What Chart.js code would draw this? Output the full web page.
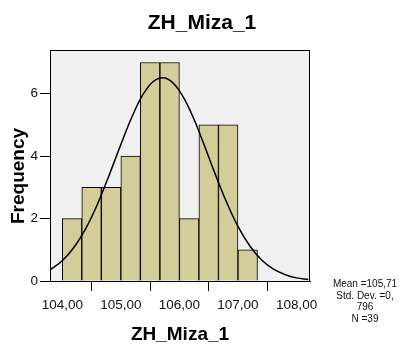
<!DOCTYPE html>
<html>
<head>
<meta charset="utf-8">
<script src="https://cdn.jsdelivr.net/npm/chart.js@4.4.1/dist/chart.umd.min.js"></script>
<style>
  body { margin: 0; background: #fff; }
  #wrap { width: 400px; height: 345px; }
</style>
</head>
<body>
<div id="wrap"><canvas id="histChart" width="400" height="345"></canvas></div>
<script>
// Histogram bins (lower edge, upper edge) and frequencies
const binStarts = [104.0, 104.333, 104.667, 105.0, 105.333, 105.667, 106.0, 106.333, 106.667, 107.0];
const binWidth = 0.3333;
const frequencies = [2, 3, 3, 4, 7, 7, 2, 5, 5, 1];

// Normal curve read along the x axis
const curveX = [103.8, 104.0, 104.2, 104.4, 104.6, 104.8, 105.0, 105.2, 105.4, 105.6, 105.8, 106.0,
                106.2, 106.4, 106.6, 106.8, 107.0, 107.2, 107.4, 107.6, 107.8, 108.0, 108.2];
const curveY = [0.37, 0.65, 1.08, 1.68, 2.46, 3.39, 4.37, 5.30, 6.04, 6.45, 6.47, 6.09,
                5.39, 4.47, 3.48, 2.55, 1.75, 1.13, 0.68, 0.39, 0.21, 0.10, 0.05];

const xTickValues = [104, 105, 106, 107, 108];
const xTickLabels = ['104,00', '105,00', '106,00', '107,00', '108,00'];
const yTickValues = [0, 2, 4, 6];

const chartTitle = 'ZH_Miza_1';
const xTitle = 'ZH_Miza_1';
const yTitle = 'Frequency';
const statsLines = ['Mean =105,71', 'Std. Dev. =0,', '796', 'N =39'];

const barPoints = binStarts.map((s, i) => ({ x: s + binWidth / 2, y: frequencies[i] }));
const curvePoints = curveX.map((x, i) => ({ x: x, y: curveY[i] }));

const FONT = 'Arial, "Liberation Sans", sans-serif';

// grey plot background, frame, titles and the stats block
const decorations = {
    id: 'decorations',
    beforeDatasetsDraw(chart) {
        const { ctx, chartArea: a } = chart;
        ctx.save();
        ctx.fillStyle = '#f0f0f0';
        ctx.fillRect(a.left, a.top, a.right - a.left, a.bottom - a.top);
        ctx.restore();
    },
    afterDraw(chart) {
        const { ctx, chartArea: a } = chart;
        ctx.save();
        ctx.strokeStyle = '#000';
        ctx.lineWidth = 1;
        ctx.strokeRect(a.left + 0.5, a.top + 0.5, a.right - a.left - 1, a.bottom - a.top);

        ctx.fillStyle = '#000';
        ctx.textAlign = 'center';
        ctx.textBaseline = 'middle';
        ctx.font = 'bold 21px ' + FONT;
        ctx.fillText(chartTitle, 202, 23);

        ctx.font = 'bold 19px ' + FONT;
        ctx.fillText(xTitle, (a.left + a.right) / 2, 335);

        ctx.save();
        ctx.translate(19, 176);
        ctx.rotate(-Math.PI / 2);
        ctx.fillText(yTitle, 0, 0);
        ctx.restore();

        ctx.font = '10px ' + FONT;
        ctx.fillStyle = '#111';
        statsLines.forEach((line, i) => {
            ctx.fillText(line, 365, 284 + i * 11.8);
        });
        ctx.restore();
    }
};

const ctx = document.getElementById('histChart').getContext('2d');
const chart = new Chart(ctx, {
    data: {
        datasets: [
            {
                type: 'line',
                data: curvePoints,
                borderColor: '#000',
                borderWidth: 1.5,
                pointRadius: 0,
                tension: 0.4,
                fill: false,
                order: 0
            },
            {
                type: 'bar',
                data: barPoints,
                backgroundColor: '#d3ce99',
                borderColor: '#000',
                borderWidth: 1,
                categoryPercentage: 1,
                barPercentage: 1,
                order: 1
            }
        ]
    },
    options: {
        responsive: false,
        animation: false,
        devicePixelRatio: 1,
        layout: { padding: { left: 0, top: 50, right: 90, bottom: 0 } },
        plugins: {
            legend: { display: false },
            title: { display: false },
            tooltip: { enabled: false }
        },
        scales: {
            x: {
                type: 'linear',
                min: 103.79,
                max: 108.23,
                offset: false,
                afterFit: s => { s.height = 64; },
                afterBuildTicks: s => { s.ticks = xTickValues.map(v => ({ value: v })); },
                grid: { drawOnChartArea: false, drawTicks: true, tickLength: 10, color: '#000' },
                border: { display: true, color: '#000' },
                ticks: {
                    color: '#111',
                    padding: 6,
                    font: { family: FONT, size: 13.5 },
                    callback: v => xTickLabels[xTickValues.indexOf(v)]
                }
            },
            y: {
                min: 0,
                max: 7.4,
                afterFit: s => { s.width = 50; },
                afterBuildTicks: s => { s.ticks = yTickValues.map(v => ({ value: v })); },
                grid: { drawOnChartArea: false, drawTicks: true, tickLength: 10, color: '#000' },
                border: { display: true, color: '#000' },
                ticks: {
                    color: '#111',
                    padding: 2,
                    font: { family: FONT, size: 13.5 }
                }
            }
        }
    },
    plugins: [decorations]
});
</script>
</body>
</html>
